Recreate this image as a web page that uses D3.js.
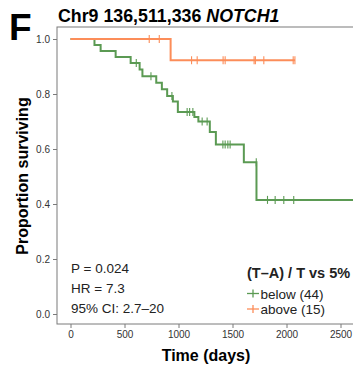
<!DOCTYPE html>
<html><head><meta charset="utf-8">
<script src="https://cdn.jsdelivr.net/npm/d3@7"></script>
<style>html,body{margin:0;padding:0;background:#fff;}svg{display:block;}</style>
</head><body>
<script>
// ---- data ----
const xTicks = [0, 500, 1000, 1500, 2000, 2500];
const yTicks = [0.0, 0.2, 0.4, 0.6, 0.8, 1.0];
const belowTimes = [0, 222, 279, 418, 557, 640, 666, 794, 846, 895, 948, 994, 1147, 1184, 1290, 1346, 1605, 1722, 2650];
const belowSurv  = [1.0, 0.978, 0.956, 0.935, 0.913, 0.889, 0.865, 0.841, 0.817, 0.793, 0.773, 0.735, 0.716, 0.700, 0.662, 0.616, 0.552, 0.415, 0.415];
const belowCensor = [609, 745, 939, 1080, 1103, 1133, 1219, 1265, 1411, 1432, 1457, 1478, 1720, 1824, 1895, 1975, 2067];
const aboveTimes = [0, 927, 2078];
const aboveSurv  = [1.0, 0.923, 0.923];
const aboveCensor = [729, 822, 1121, 1173, 1413, 1432, 1700, 1712, 1790, 2062, 2078];
const groups = ["below (44)", "above (15)"];
const colors = ["#5b9a53", "#fc8d59"];
const stats = ["P = 0.024", "HR = 7.3", "95% CI: 2.7\u201320"];

const W = 353, H = 368;
const font = "'Liberation Sans', Arial, Helvetica, sans-serif";
const svg = d3.select("body").append("svg").attr("width", W).attr("height", H)
  .style("font-family", font);

const x = d3.scaleLinear().domain([0, 2500]).range([70.5, 340.5]);
const y = d3.scaleLinear().domain([0, 1]).range([314, 39]);

// panel letter & title
svg.append("text").attr("x", 9).attr("y", 40).attr("font-size", 37).attr("font-weight", "bold").text("F");
const t = svg.append("text").attr("x", 58).attr("y", 22).attr("font-size", 17.8).attr("font-weight", "bold");
t.append("tspan").text("Chr9 136,511,336 ");
t.append("tspan").attr("font-style", "italic").text("NOTCH1");

// box
const boxL = 57, boxT = 27, boxB = 324;
svg.append("rect").attr("x", boxL).attr("y", boxT).attr("width", 400).attr("height", boxB - boxT)
  .attr("fill", "none").attr("stroke", "#7a7a7a").attr("stroke-width", 1);

// axes
const yAxis = d3.axisLeft(y).tickValues(yTicks).tickFormat(d3.format(".1f")).tickSize(4).tickPadding(3);
const gy = svg.append("g").attr("transform", `translate(${boxL},0)`).call(yAxis);
gy.select(".domain").remove();
const xAxis = d3.axisBottom(x).tickValues(xTicks).tickFormat(d3.format("d")).tickSize(4).tickPadding(3);
const gx = svg.append("g").attr("transform", `translate(0,${boxB})`).call(xAxis);
gx.select(".domain").remove();
[gx, gy].forEach(g => {
  g.selectAll("line").attr("stroke", "#7a7a7a");
  g.selectAll("text").attr("fill", "#333").attr("font-size", 10).style("font-family", font);
});

svg.append("text").attr("x", 206).attr("y", 361).attr("text-anchor", "middle")
  .attr("font-size", 16).attr("font-weight", "bold").text("Time (days)");
svg.append("text").attr("transform", "translate(28,176) rotate(-90)").attr("text-anchor", "middle")
  .attr("font-size", 16).attr("font-weight", "bold").text("Proportion surviving");

// curves
const line = d3.line().x(d => x(d[0])).y(d => y(d[1])).curve(d3.curveStepAfter);
function drawCurve(times, surv, censor, color) {
  const pts = times.map((tt, i) => [tt, surv[i]]);
  svg.append("path").datum(pts).attr("d", line).attr("fill", "none")
    .attr("stroke", color).attr("stroke-width", 2);
  const lookup = tt => surv[d3.bisectRight(times, tt) - 1];
  svg.append("g").selectAll("line").data(censor).join("line")
    .attr("x1", d => x(d)).attr("x2", d => x(d))
    .attr("y1", d => y(lookup(d)) - 4).attr("y2", d => y(lookup(d)) + 4)
    .attr("stroke", color).attr("stroke-width", 1.1);
}
drawCurve(belowTimes, belowSurv, belowCensor, colors[0]);
drawCurve(aboveTimes, aboveSurv, aboveCensor, colors[1]);

// stats
svg.append("g").selectAll("text").data(stats).join("text")
  .attr("x", 71).attr("y", (d, i) => 273 + i * 20.2).attr("font-size", 13.5).attr("fill", "#222").text(d => d);

// legend
svg.append("text").attr("x", 247).attr("y", 278).attr("font-size", 14.5).attr("font-weight", "bold")
  .attr("fill", "#222").text("(T\u2013A) / T vs 5%");
const lg = svg.append("g").selectAll("g").data(groups).join("g")
  .attr("transform", (d, i) => `translate(253,${293.5 + i * 15.5})`);
lg.append("line").attr("x1", -6).attr("x2", 6).attr("y1", 0).attr("y2", 0)
  .attr("stroke", (d, i) => colors[i]).attr("stroke-width", 1.3);
lg.append("line").attr("x1", 0).attr("x2", 0).attr("y1", -4).attr("y2", 4)
  .attr("stroke", (d, i) => colors[i]).attr("stroke-width", 1.3);
lg.append("text").attr("x", 7.5).attr("y", 5).attr("font-size", 13.5).attr("fill", "#222").text(d => d);
</script>
</body></html>
